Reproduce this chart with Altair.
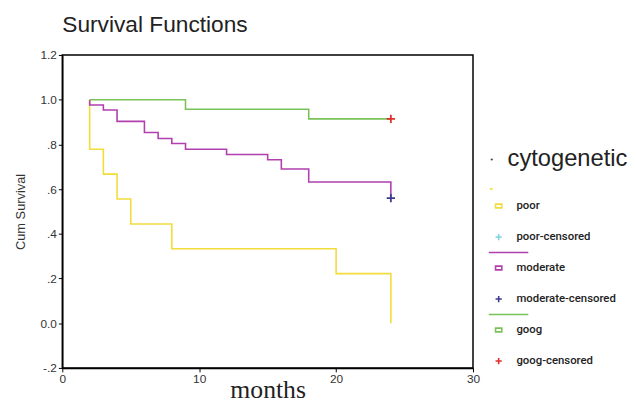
import altair as alt
import pandas as pd

# ---- survival curves ----
groups = ["poor", "moderate", "goog"]
poor_time = [2, 2, 3, 4, 5, 8, 20, 24]
poor_surv = [1.0, 0.778, 0.667, 0.556, 0.444, 0.333, 0.222, 0.0]
moderate_time = [2, 2, 3, 4, 6, 7, 8, 9, 12, 15, 16, 18, 24]
moderate_surv = [1.0, 0.976, 0.954, 0.903, 0.853, 0.826, 0.804, 0.778, 0.755, 0.731, 0.69, 0.632, 0.56]
goog_time = [2, 9, 18, 24]
goog_surv = [1.0, 0.957, 0.914, 0.914]

censor_groups = ["moderate-censored", "goog-censored"]
censor_time = [24, 24]
censor_surv = [0.56, 0.914]

x_ticks = [0, 10, 20, 30]
y_tick_tenths = [-2, 0, 2, 4, 6, 8, 10, 12]
y_tick_labels = ["-.2", "0.0", ".2", ".4", ".6", ".8", "1.0", "1.2"]

legend_labels = ["poor", "poor-censored", "moderate", "moderate-censored", "goog", "goog-censored"]
legend_kinds = ["box", "plus", "box", "plus", "box", "plus"]
legend_rows = [0, 1, 2, 3, 4, 5]
legend_line_groups = ["moderate", "goog"]
legend_line_rows = [1.5, 3.5]

# ---- styles ----
line_colors = ["#f2dc3c", "#b13fae", "#79c257"]
censor_colors = ["#3b3b8f", "#e0302a"]
legend_colors = ["#f2dc3c", "#7fd3e3", "#b13fae", "#3b3b8f", "#79c257", "#e0302a"]
PLUS = "M-1,0L1,0M0,-1L0,1"
BOX = "M-1,-0.6L1,-0.6L1,0.6L-1,0.6Z"

rows = []
for g, ts, ss in [("poor", poor_time, poor_surv), ("moderate", moderate_time, moderate_surv), ("goog", goog_time, goog_surv)]:
    for i, (t, s) in enumerate(zip(ts, ss)):
        rows.append({"group": g, "time": t, "surv": s, "idx": i})
curves = pd.DataFrame(rows)
cens = pd.DataFrame({"group": censor_groups, "time": censor_time, "surv": censor_surv})

label_expr = "[" + ",".join("'%s'" % l for l in y_tick_labels) + "][indexof([" + ",".join(str(v) for v in y_tick_tenths) + "], round(datum.value*10))]"

x_scale = alt.Scale(domain=[0, 30], nice=False)
y_scale = alt.Scale(domain=[-0.2, 1.2], nice=False)

x_axis = alt.Axis(values=x_ticks, title="months", grid=False, labelFlush=False,
                  titleFont="Liberation Serif", titleFontSize=26, titleFontWeight="normal",
                  titleColor="#222", titlePadding=-8,
                  labelFont="Liberation Sans", labelFontSize=12, labelColor="#333",
                  labelPadding=2, tickSize=4, domainColor="black", tickColor="black",
                  domainWidth=1.5)
y_axis = alt.Axis(values=[v / 10 for v in y_tick_tenths], labelExpr=label_expr,
                  title="Cum Survival", grid=False, labelFlush=False,
                  titleFont="Liberation Sans", titleFontSize=13, titleFontWeight="normal",
                  titleColor="#333", titlePadding=13,
                  labelFont="Liberation Sans", labelFontSize=12, labelColor="#333",
                  labelPadding=2, tickSize=4, domainColor="black", tickColor="black",
                  domainWidth=1.5)

lines = alt.Chart(curves).mark_line(interpolate="step-after", strokeWidth=1.6).encode(
    x=alt.X("time:Q", scale=x_scale, axis=x_axis),
    y=alt.Y("surv:Q", scale=y_scale, axis=y_axis),
    color=alt.Color("group:N", scale=alt.Scale(domain=groups, range=line_colors), legend=None),
    order="idx:Q",
)
marks = alt.Chart(cens).mark_point(shape=PLUS, filled=False, size=70, strokeWidth=1.8, opacity=1).encode(
    x=alt.X("time:Q", scale=x_scale),
    y=alt.Y("surv:Q", scale=y_scale),
    color=alt.Color("group:N", scale=alt.Scale(domain=censor_groups, range=censor_colors), legend=None),
)

main = alt.layer(lines, marks).resolve_scale(color="independent").properties(
    width=416, height=317,
    title=alt.TitleParams("Survival Functions", anchor="start", frame="group", font="Liberation Sans",
                          fontSize=23, fontWeight="normal", color="#222", offset=12),
    view=alt.ViewBackground(stroke="black", strokeWidth=1.5),
)

# ---- legend panel ----
leg = pd.DataFrame({"label": legend_labels, "kind": legend_kinds, "row": legend_rows})
leg_lines = pd.DataFrame({"group": legend_line_groups, "row": legend_line_rows})
leg_title = pd.DataFrame({"label": ["cytogenetic"], "row": [-1.5]})
leg_yline = pd.DataFrame({"group": ["poor"], "row": [-0.55]})

ly = alt.Scale(domain=[-4.873, 5.223], reverse=True, nice=False, zero=False)

t_title = alt.Chart(leg_title).mark_text(align="left", baseline="middle", font="Liberation Sans",
                                          fontSize=24, color="#222").encode(
    x=alt.value(22), y=alt.Y("row:Q", scale=ly, axis=None), text="label:N")
t_dot = alt.Chart(leg_title).mark_circle(size=5, color="#444", opacity=1).encode(
    x=alt.value(6), y=alt.Y("row:Q", scale=ly, axis=None))
t_lines = alt.Chart(leg_lines).mark_rule(strokeWidth=1.6).encode(
    x=alt.value(3), x2=alt.value(43), y=alt.Y("row:Q", scale=ly, axis=None),
    color=alt.Color("group:N", scale=alt.Scale(domain=groups, range=line_colors), legend=None))
t_yline = alt.Chart(leg_yline).mark_rule(strokeWidth=1.6, color=line_colors[0]).encode(
    x=alt.value(4), x2=alt.value(7), y=alt.Y("row:Q", scale=ly, axis=None))
t_sym = alt.Chart(leg).mark_point(filled=False, size=40, strokeWidth=1.6, opacity=1).encode(
    x=alt.value(13), y=alt.Y("row:Q", scale=ly, axis=None),
    shape=alt.Shape("kind:N", scale=alt.Scale(domain=["box", "plus"], range=[BOX, PLUS]), legend=None),
    color=alt.Color("label:N", scale=alt.Scale(domain=legend_labels, range=legend_colors), legend=None))
t_lab = alt.Chart(leg).mark_text(align="left", baseline="middle", font="Roboto", fontSize=11.5,
                                  fontWeight=500, color="#222").encode(
    x=alt.value(31), y=alt.Y("row:Q", scale=ly, axis=None), text="label:N")

legend_panel = alt.layer(t_title, t_dot, t_lines, t_yline, t_sym, t_lab).resolve_scale(
    color="independent").properties(width=125, height=317)

chart = alt.hconcat(main, legend_panel, spacing=13, bounds="flush",
                    padding={"left": 5, "top": 3, "right": 0, "bottom": 0}).configure(
    background="white", view=alt.ViewConfig(stroke="transparent"))

chart.save("out.html", embed_options={"renderer": "svg", "actions": False})
